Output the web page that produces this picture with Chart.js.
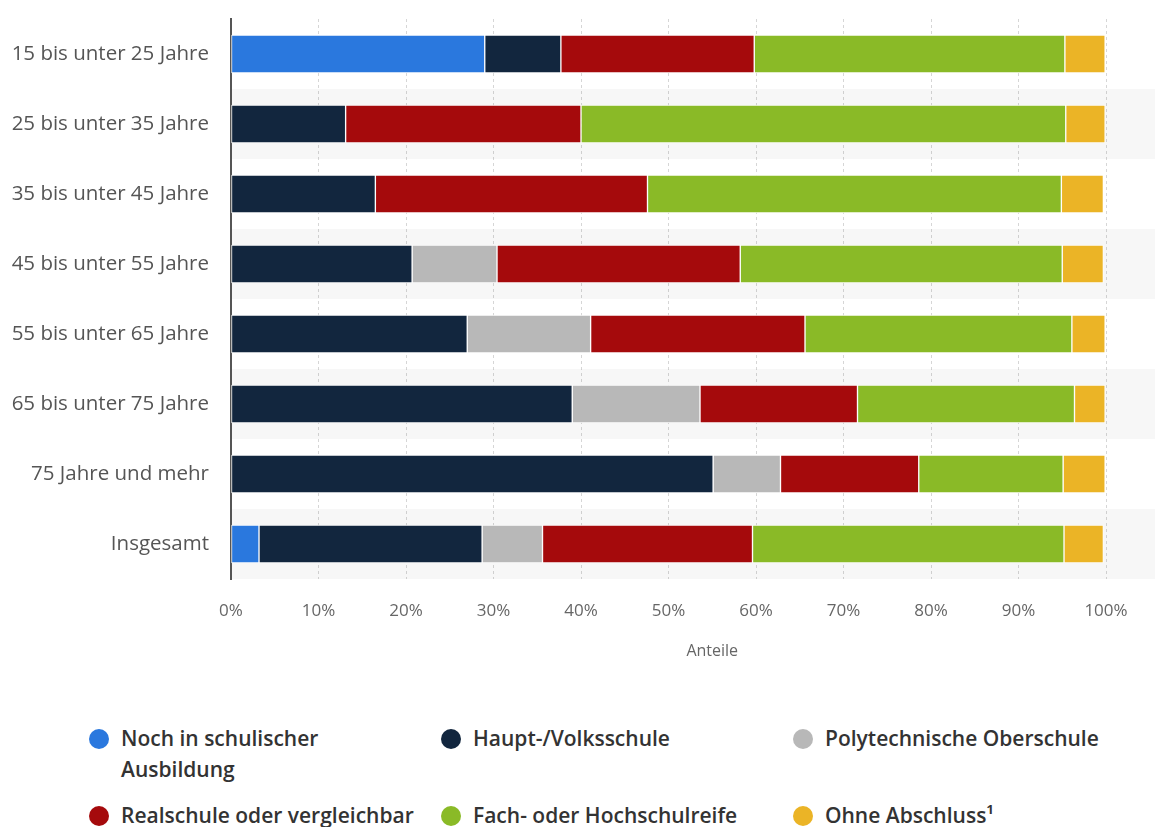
<!DOCTYPE html>
<html lang="de">
<head>
<meta charset="utf-8">
<title>Bildungsabschluss nach Altersgruppen</title>
<script src="https://cdn.jsdelivr.net/npm/chart.js@4.4.1/dist/chart.umd.min.js"></script>
<style>
  html, body { margin: 0; padding: 0; background: #fff; }
  #wrap { position: relative; width: 1155px; height: 827px; overflow: hidden; }
  #chart { position: absolute; left: 0; top: 0; }
  .leg-item { position: absolute; font-family: "Open Sans", sans-serif; font-size: 21px; font-weight: 600;
    line-height: 31px; color: #333; white-space: pre-line; }
  .leg-dot { position: absolute; width: 20px; height: 20px; border-radius: 50%; }
</style>
</head>
<body>
<div id="wrap">
  <canvas id="chart" width="1155" height="690"></canvas>
  <div id="legend"></div>
</div>
<script>
const altersgruppen = [
  "15 bis unter 25 Jahre",
  "25 bis unter 35 Jahre",
  "35 bis unter 45 Jahre",
  "45 bis unter 55 Jahre",
  "55 bis unter 65 Jahre",
  "65 bis unter 75 Jahre",
  "75 Jahre und mehr",
  "Insgesamt",
];

// Anteile in Prozent je Altersgruppe
const nochSchule   = [29.0, 0, 0, 0, 0, 0, 0, 3.2];
const hauptschule  = [8.7, 13.1, 16.5, 20.7, 27.0, 39.0, 55.1, 25.5];
const polytechnik  = [0, 0, 0, 9.7, 14.1, 14.6, 7.7, 6.9];
const realschule   = [22.1, 26.9, 31.1, 27.8, 24.5, 18.0, 15.8, 24.0];
const hochschule   = [35.5, 55.4, 47.3, 36.8, 30.5, 24.8, 16.5, 35.6];
const ohneAbschl   = [4.6, 4.5, 4.8, 4.7, 3.8, 3.5, 4.8, 4.5];

const serienNamen = [
  "Noch in schulischer\nAusbildung",
  "Haupt-/Volksschule",
  "Polytechnische Oberschule",
  "Realschule oder vergleichbar",
  "Fach- oder Hochschulreife",
  "Ohne Abschluss¹",
];
const serienFarben = ["#2a78de", "#12263e", "#b8b8b8", "#a50a0c", "#8aba27", "#ebb426"];
const serienWerte = [nochSchule, hauptschule, polytechnik, realschule, hochschule, ohneAbschl];

const xTicks = [0, 10, 20, 30, 40, 50, 60, 70, 80, 90, 100];
const xTitel = "Anteile";

// abwechselnd hinterlegte Zeilen
const zeilenStreifen = {
  id: "zeilenStreifen",
  beforeDraw(chart) {
    const { ctx, chartArea, scales } = chart;
    const y = scales.y;
    const h = (chartArea.bottom - chartArea.top) / altersgruppen.length;
    ctx.save();
    ctx.fillStyle = "#f7f7f7";
    altersgruppen.forEach((_, i) => {
      if (i % 2 === 1) {
        const c = y.getPixelForValue(i);
        ctx.fillRect(chartArea.left, c - h / 2, chart.width - chartArea.left, h);
      }
    });
    ctx.restore();
  },
};

// Achsentitel etwas rechts der Mitte, unter 55 %
const achsenTitel = {
  id: "achsenTitel",
  afterDraw(chart) {
    const { ctx, scales } = chart;
    ctx.save();
    ctx.font = "16px 'Open Sans'";
    ctx.fillStyle = "#666";
    ctx.textAlign = "center";
    ctx.textBaseline = "middle";
    ctx.fillText(xTitel, scales.x.getPixelForValue(55), 651);
    ctx.restore();
  },
};

const ctx = document.getElementById("chart");
const chart = new Chart(ctx, {
  type: "bar",
  data: {
    labels: altersgruppen,
    datasets: serienNamen.map((name, i) => ({
      label: name,
      data: serienWerte[i],
      backgroundColor: serienFarben[i],
      borderColor: "rgba(255,255,255,0.85)",
      borderWidth: 1,
      borderSkipped: false,
      barThickness: 38,
    })),
  },
  options: {
    indexAxis: "y",
    responsive: false,
    animation: false,
    layout: { padding: { top: 19, right: 49, left: 0, bottom: 0 } },
    plugins: {
      legend: { display: false },
      tooltip: { enabled: false },
    },
    scales: {
      x: {
        stacked: true,
        min: 0,
        max: 100,
        afterBuildTicks: (scale) => { scale.ticks = xTicks.map((v) => ({ value: v })); },
        afterFit: (scale) => {
          scale.height = 111;
          scale.paddingLeft = 0;
          scale.paddingRight = 0;
        },
        ticks: {
          padding: 22,
          color: "#666",
          font: { family: "Open Sans", size: 17 },
          callback: (v) => v + "%",
        },
        grid: {
          color: "rgba(0,0,0,0.16)",
          lineWidth: 1,
          drawTicks: false,
        },
        border: { display: false, dash: [3, 3] },
      },
      y: {
        stacked: true,
        afterFit: (scale) => {
          scale.width = 231;
          scale.paddingTop = 0;
          scale.paddingBottom = 0;
        },
        ticks: {
          padding: 22,
          color: "#555",
          font: { family: "Open Sans", size: 20.5 },
        },
        grid: { display: false, drawTicks: false },
        border: { display: true, color: "#555", width: 2 },
      },
    },
  },
  plugins: [zeilenStreifen, achsenTitel],
});

// Legende unter dem Diagramm, drei Spalten
const legend = document.getElementById("legend");
serienNamen.forEach((name, i) => {
  const col = i % 3;
  const row = Math.floor(i / 3);
  const top = 723 + row * 77;
  const dot = document.createElement("div");
  dot.className = "leg-dot";
  dot.style.background = serienFarben[i];
  dot.style.left = (89 + col * 352) + "px";
  dot.style.top = (top + 6) + "px";
  const txt = document.createElement("div");
  txt.className = "leg-item";
  txt.style.left = (121 + col * 352) + "px";
  txt.style.top = top + "px";
  txt.textContent = name;
  legend.appendChild(dot);
  legend.appendChild(txt);
});
</script>
</body>
</html>
